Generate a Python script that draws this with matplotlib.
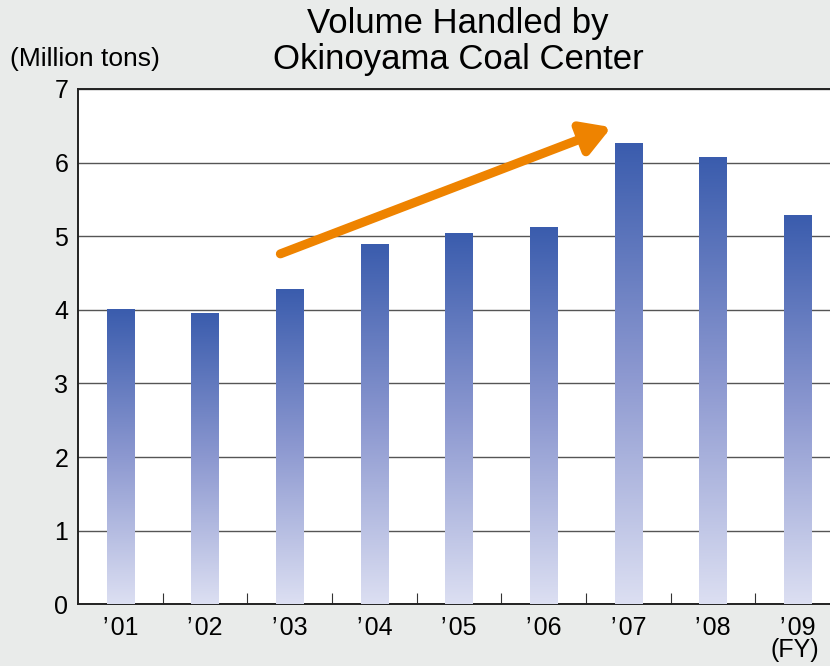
#volume handled chart

import matplotlib.pyplot as plt
import numpy as np
from matplotlib.colors import LinearSegmentedColormap

plt.rcParams['font.family'] = ['Liberation Sans', 'DejaVu Sans']

#data
years = ['\u2019\u200a01', '\u2019\u200a02', '\u2019\u200a03', '\u2019\u200a04', '\u2019\u200a05',
         '\u2019\u200a06', '\u2019\u200a07', '\u2019\u200a08', '\u2019\u200a09']
volume = [4.01, 3.96, 4.28, 4.90, 5.05, 5.13, 6.27, 6.08, 5.29]

bg = '#e9ebea'
fig = plt.figure(figsize=(8.3, 6.66), dpi=100, facecolor=bg)
ax = fig.add_axes([0.094, 0.0925, 0.918, 0.774])
ax.set_facecolor('white')

x = np.arange(len(years))
bars = ax.bar(x, volume, width=0.32, color='none', zorder=3)

#gradient fill, dark on top, light at the base
cmap = LinearSegmentedColormap.from_list('bargrad', ['#dcdff2', '#8c98d0', '#3a5cad'])
grad = np.linspace(0, 1, 256).reshape(-1, 1)
for b in bars:
    x0, w, h = b.get_x(), b.get_width(), b.get_height()
    im = ax.imshow(grad, cmap=cmap, origin='lower', aspect='auto',
                   extent=[x0, x0 + w, 0, h], zorder=3)
    im.set_clip_path(b)

ax.set_xlim(-0.5, len(years) - 0.5)
ax.set_ylim(0, 7)
ax.set_yticks(range(8))
ax.yaxis.grid(True, color='#555555', linewidth=1.0, zorder=1)
ax.set_axisbelow(True)

ax.set_xticks(x)
ax.set_xticklabels(years, fontsize=18)
ax.set_xticks(x[:-1] + 0.5, minor=True)
ax.tick_params(axis='x', which='major', length=0, pad=8)
ax.tick_params(axis='x', which='minor', direction='in', length=8, width=0.8, color='#333333')
ax.tick_params(axis='y', length=0, pad=7, labelsize=18)

for s in ['left', 'top', 'bottom']:
    ax.spines[s].set_color('#222222')
    ax.spines[s].set_linewidth(1.4)
ax.spines['right'].set_visible(False)

#trend arrow
ax.annotate('', xy=(5.80, 6.48), xytext=(1.89, 4.76),
            arrowprops=dict(arrowstyle='-|>,head_length=1.7,head_width=1.0',
                            color='#ee8300', lw=6.5, shrinkA=0, shrinkB=0),
            zorder=5)

fig.text(0.552, 0.965, 'Volume Handled by', ha='center', va='center', fontsize=25)
fig.text(0.552, 0.911, 'Okinoyama Coal Center', ha='center', va='center', fontsize=25)
fig.text(0.012, 0.911, '(Million tons)', ha='left', va='center', fontsize=19)
fig.text(0.958, 0.024, '(FY)', ha='center', va='center', fontsize=18)

fig.savefig('out.png', dpi=100, facecolor=bg)
